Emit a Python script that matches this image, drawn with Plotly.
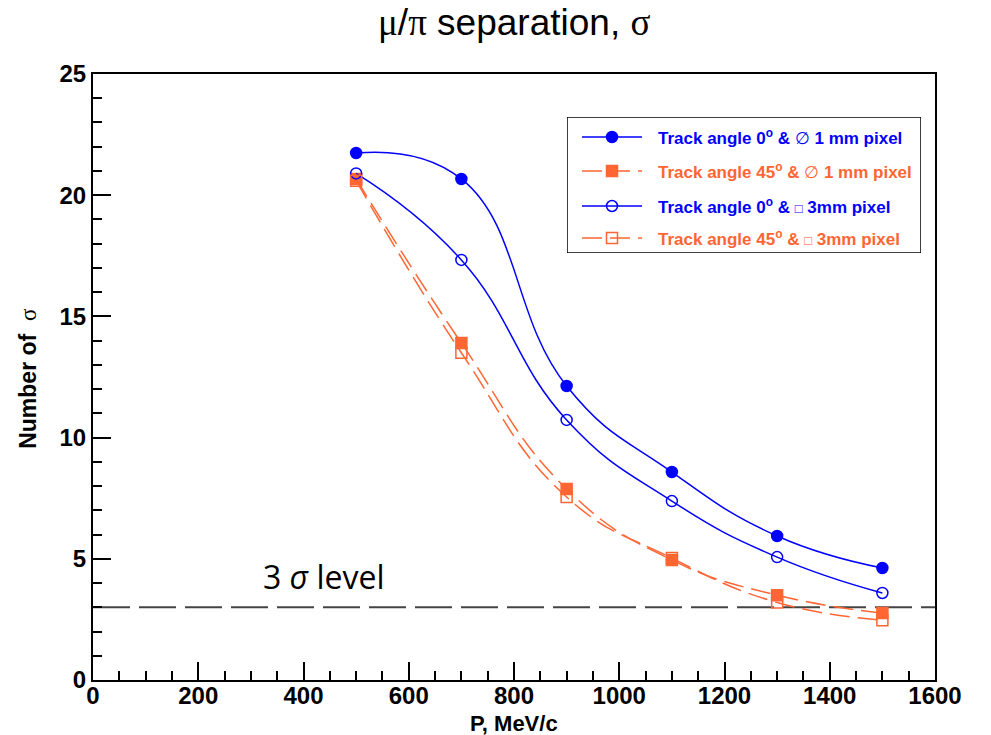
import plotly.graph_objects as go

P = [500, 700, 900, 1100, 1300, 1500]
filled_circle = [21.74, 20.67, 12.13, 8.58, 5.94, 4.62]
filled_square = [20.67, 13.9, 7.88, 4.95, 3.5, 2.76]
open_circle = [20.9, 17.33, 10.73, 7.38, 5.07, 3.59]
open_square = [20.6, 13.5, 7.55, 5.03, 3.2, 2.47]
level = 3
xticks = [0, 200, 400, 600, 800, 1000, 1200, 1400, 1600]
yticks = [0, 5, 10, 15, 20, 25]

BLUE = "#0000ff"
ORANGE = "#ff6633"
SER = "Liberation Serif"

labels = [
    "Track angle 0<sup>o</sup> &amp; <span style='font-family:Liberation Serif;font-weight:normal'>∅</span> 1 mm pixel",
    "Track angle 45<sup>o</sup> &amp; <span style='font-family:Liberation Serif;font-weight:normal'>∅</span> 1 mm pixel",
    "Track angle 0<sup>o</sup> &amp; <span style='font-size:13px'>□</span> 3mm pixel",
    "Track angle 45<sup>o</sup> &amp; <span style='font-size:13px'>□</span> 3mm pixel",
]
series = [
    (filled_circle, BLUE, "solid", "circle"),
    (filled_square, ORANGE, "20px,8px", "square"),
    (open_circle, BLUE, "solid", "circle-open"),
    (open_square, ORANGE, "20px,8px", "square-open"),
]

fig = go.Figure()

fig.add_trace(go.Scatter(x=[0, 1600], y=[level, level], mode="lines",
                         line=dict(color="#444444", width=2, dash="37px,9px"),
                         showlegend=False, hoverinfo="skip"))

for (vals, col, dash, sym), lab in zip(series, labels):
    fig.add_trace(go.Scatter(
        x=P, y=vals, mode="lines+markers",
        line=dict(color=col, width=1.5, dash=dash, shape="spline", smoothing=1.3),
        marker=dict(symbol=sym, size=11, color=col, line=dict(color=col, width=1.5)),
        showlegend=False))

# legend, drawn on a hidden pixel-like axis pair
row_y = [137, 171, 206, 238]
for (vals, col, dash, sym), lab, ry in zip(series, labels, row_y):
    fig.add_trace(go.Scatter(x=[582, 642], y=[ry, ry], mode="lines",
                             line=dict(color=col, width=1.5, dash=dash),
                             xaxis="x2", yaxis="y2", showlegend=False, hoverinfo="skip"))
    fig.add_trace(go.Scatter(x=[612], y=[ry], mode="markers",
                             marker=dict(symbol=sym, size=11, color=col, line=dict(color=col, width=1.5)),
                             xaxis="x2", yaxis="y2", showlegend=False, hoverinfo="skip"))
    fig.add_annotation(x=656, y=ry, xref="x2", yref="y2", text="<b>" + lab + "</b>",
                       showarrow=False, xanchor="left", yanchor="middle",
                       font=dict(family="Liberation Sans", size=17, color=col))

fig.add_shape(type="rect", xref="x2", yref="y2", x0=567, x1=921, y0=117, y1=253,
              line=dict(color="black", width=1.5), fillcolor="rgba(0,0,0,0)")

fig.add_annotation(x=439, y=4.25, xref="x", yref="y",
                   text="3 <i>σ</i> level", showarrow=False, yanchor="middle",
                   font=dict(family="Open Sans", size=32, color="black"))

fig.add_annotation(x=0.5, y=1.0, xref="paper", yref="paper", yshift=52, yanchor="middle",
                   text=f"<span style='font-family:{SER}'>μ</span>/<span style='font-family:{SER}'>π</span> separation, <span style='font-family:{SER}'>σ</span>",
                   showarrow=False, font=dict(family="Liberation Sans", size=37, color="black"))

fig.add_annotation(x=0.5, y=0, xref="paper", yref="paper", yshift=-43, yanchor="middle",
                   text="<b>P, MeV/c</b>", showarrow=False, xanchor="center",
                   font=dict(family="Liberation Sans", size=22, color="black"))

fig.add_annotation(x=0, y=0.497, xref="paper", yref="paper", xshift=-65, xanchor="center",
                   yanchor="middle",
                   text=f"<b>Number of  <span style='font-family:{SER};font-weight:normal'>σ</span></b>", showarrow=False,
                   textangle=-90, font=dict(family="Liberation Sans", size=23, color="black"))

fig.update_layout(
    width=991, height=735,
    margin=dict(l=93, r=56, t=74, b=55),
    plot_bgcolor="white", paper_bgcolor="white",
    xaxis=dict(range=[0, 1600], tickvals=xticks, ticktext=[f"<b>{v}</b>" for v in xticks],
               ticks="inside", ticklen=18, tickwidth=1.5, tickcolor="black",
               ticklabelstandoff=-7,
               minor=dict(dtick=50, ticks="inside", ticklen=9, tickwidth=1.5, tickcolor="black", showgrid=False),
               showline=True, linecolor="black", linewidth=2, mirror=True,
               showgrid=False, zeroline=False,
               tickfont=dict(family="Liberation Sans", size=24, color="black")),
    yaxis=dict(range=[0, 25], tickvals=yticks, ticktext=[f"<b>{v}</b>" for v in yticks],
               ticks="inside", ticklen=18, tickwidth=1.5, tickcolor="black",
               minor=dict(dtick=1, ticks="inside", ticklen=9, tickwidth=1.5, tickcolor="black", showgrid=False),
               showline=True, linecolor="black", linewidth=2, mirror=True,
               showgrid=False, zeroline=False,
               tickfont=dict(family="Liberation Sans", size=24, color="black")),
    xaxis2=dict(domain=[(567 - 93) / 842, (921 - 93) / 842], range=[567, 921], anchor="y2",
                visible=False, fixedrange=True),
    yaxis2=dict(domain=[(680 - 253) / 606, (680 - 117) / 606], range=[253, 117], anchor="x2",
                visible=False, fixedrange=True),
    showlegend=False,
)

fig.write_html("out.html")
